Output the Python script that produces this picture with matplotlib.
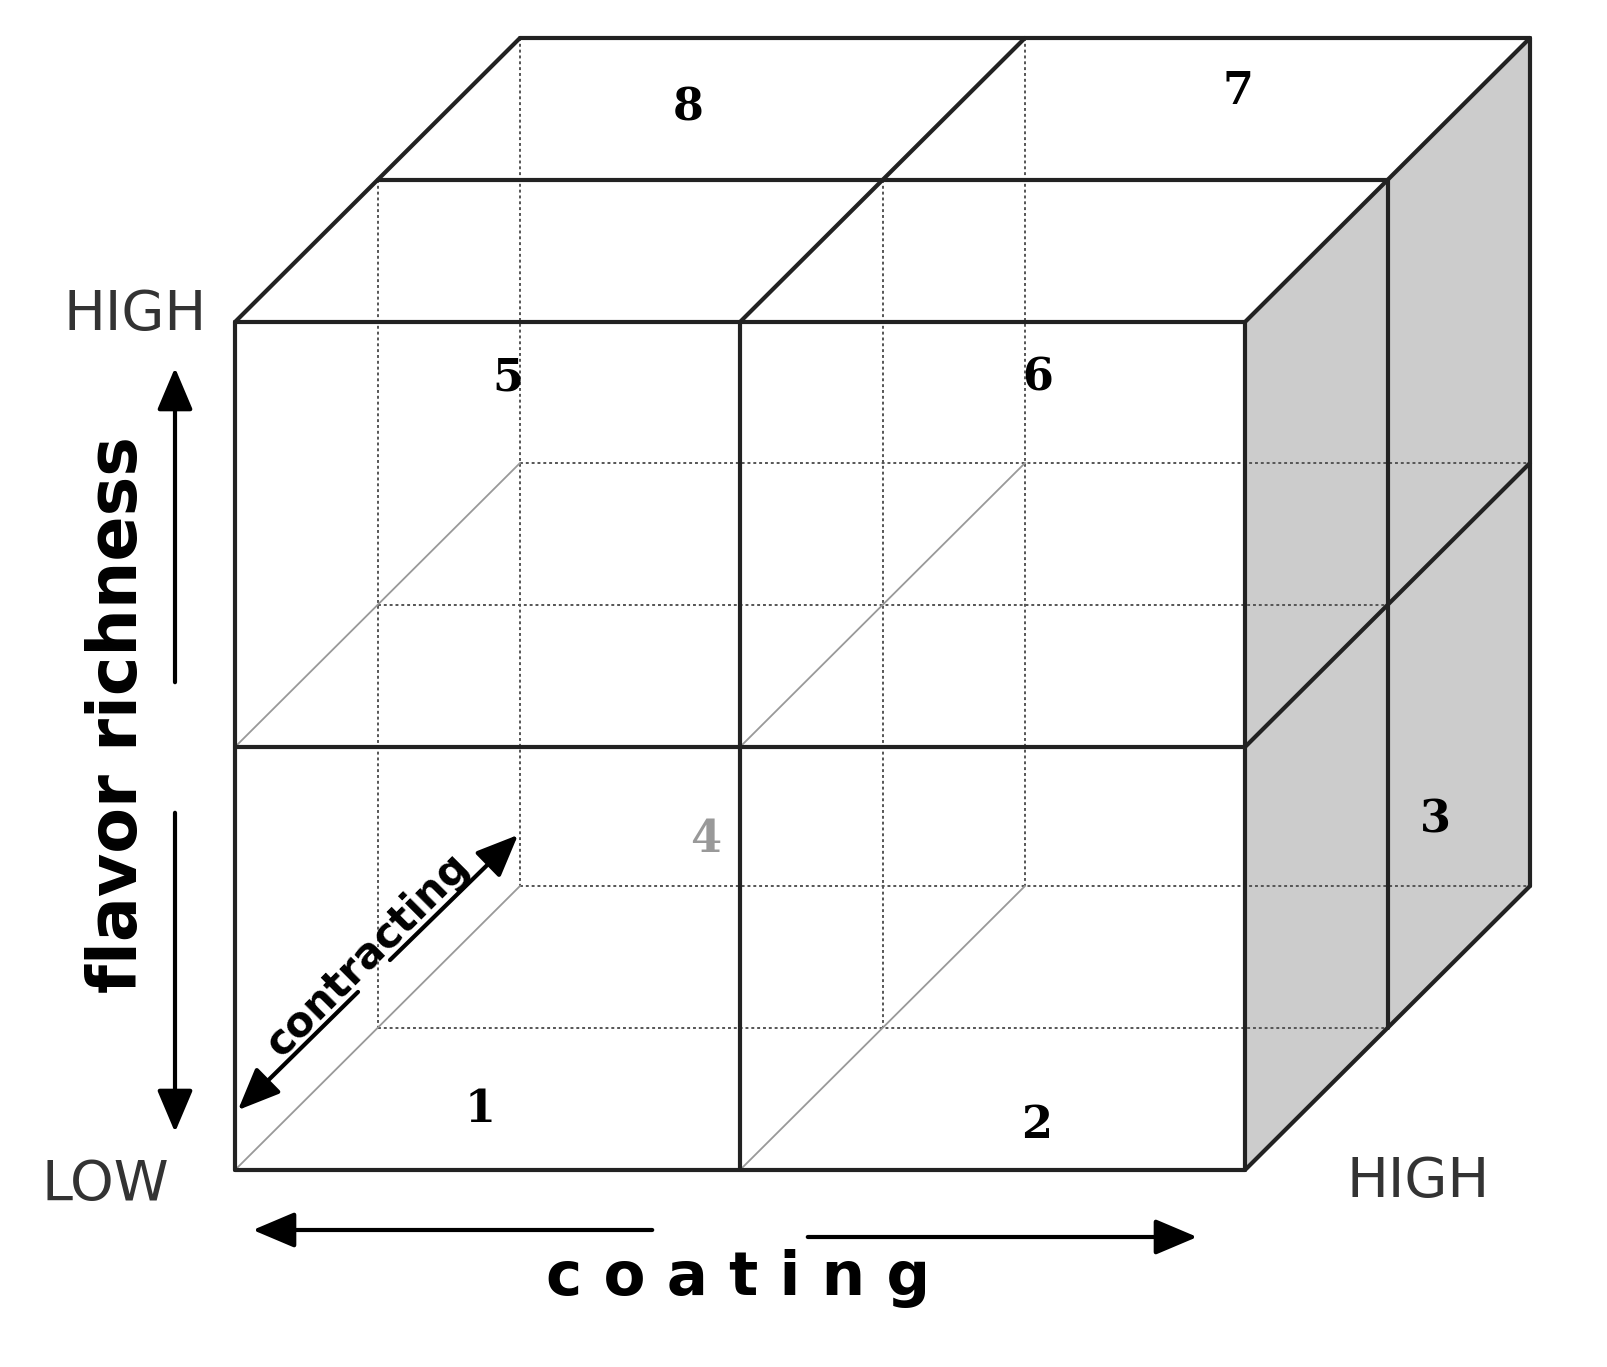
import matplotlib
matplotlib.use("Agg")
import matplotlib.pyplot as plt
from matplotlib.patches import Polygon

# cube geometry (pixel space of the diagram)
x_levels = [235, 740, 1245]      # front face columns
y_levels = [322, 747, 1170]      # front face rows
depth = [0, 0.5, 1.0]            # depth fractions
dvec = (285, -284)               # full depth offset
cell_labels = ["1", "2", "3", "4", "5", "6", "7", "8"]
label_pos = [(480, 1110), (1037, 1125), (1435, 820), (706, 840),
             (508, 378), (1038, 378), (1238, 92), (688, 108)]
label_colors = ["k", "k", "k", "#999999", "k", "k", "k", "k"]

def P(x, y, d):
    return x + dvec[0]*d, y + dvec[1]*d

fig = plt.figure(figsize=(16.07, 13.67), dpi=100)
ax = fig.add_axes([0, 0, 1, 1])
ax.set_xlim(0, 1607); ax.set_ylim(1367, 0); ax.axis("off")

xr = x_levels[-1]
poly = [P(xr, y_levels[0], 0), P(xr, y_levels[0], 1), P(xr, y_levels[-1], 1), P(xr, y_levels[-1], 0)]
ax.add_patch(Polygon(poly, closed=True, facecolor="#cccccc", edgecolor="none", zorder=0))

def line(p, q, **kw):
    ax.plot([p[0], q[0]], [p[1], q[1]], **kw)

solid = dict(color="#222222", lw=3, solid_capstyle="round")
dotted = dict(color="#555555", lw=1.4, ls=(0, (1.5, 1.5)))
thin = dict(color="#999999", lw=1.3)

for d in depth[1:]:
    for x in x_levels[:2]:
        line(P(x, y_levels[0], d), P(x, y_levels[-1], d), **dotted)
    for y in y_levels[1:]:
        line(P(x_levels[0], y, d), P(x_levels[-1], y, d), **dotted)
for x in x_levels[:2]:
    for y in y_levels[1:]:
        line(P(x, y, 0), P(x, y, 1), **thin)

for x in x_levels:
    line(P(x, y_levels[0], 0), P(x, y_levels[-1], 0), **solid)
for y in y_levels:
    line(P(x_levels[0], y, 0), P(x_levels[-1], y, 0), **solid)
for d in depth[1:]:
    line(P(x_levels[0], y_levels[0], d), P(x_levels[-1], y_levels[0], d), **solid)
for x in x_levels:
    line(P(x, y_levels[0], 0), P(x, y_levels[0], 1), **solid)
for d in depth[1:]:
    line(P(xr, y_levels[0], d), P(xr, y_levels[-1], d), **solid)
for y in y_levels[1:]:
    line(P(xr, y, 0), P(xr, y, 1), **solid)

for t, (x, y), c in zip(cell_labels, label_pos, label_colors):
    ax.text(x, y, t, fontsize=32, fontweight="bold", family="DejaVu Serif",
            ha="center", va="center", color=c)

ax.text(135, 315, "HIGH", fontsize=40, ha="center", va="center", color="#333333")
ax.text(105, 1185, "LOW", fontsize=40, ha="center", va="center", color="#333333")
ax.text(1418, 1182, "HIGH", fontsize=40, ha="center", va="center", color="#333333")

arrow = dict(arrowstyle="-|>,head_length=2.6,head_width=1.1", lw=3, color="black")
ax.annotate("", xy=(175, 365), xytext=(175, 685), arrowprops=arrow)
ax.annotate("", xy=(175, 1135), xytext=(175, 810), arrowprops=arrow)
ax.text(118, 715, "flavor richness", fontsize=48, fontweight="bold", rotation=90,
        ha="center", va="center")
ax.annotate("", xy=(250, 1230), xytext=(655, 1230), arrowprops=arrow)
ax.annotate("", xy=(1200, 1237), xytext=(805, 1237), arrowprops=arrow)
ax.text(738, 1278, "c o a t i n g", fontsize=44, fontweight="bold", ha="center", va="center")
ax.annotate("", xy=(236, 1112), xytext=(360, 990), arrowprops=arrow)
ax.annotate("", xy=(520, 833), xytext=(388, 962), arrowprops=arrow)
ax.text(368, 955, "contracting", fontsize=30, fontweight="bold", rotation=45,
        ha="center", va="center")

fig.savefig("out.png", dpi=100)
